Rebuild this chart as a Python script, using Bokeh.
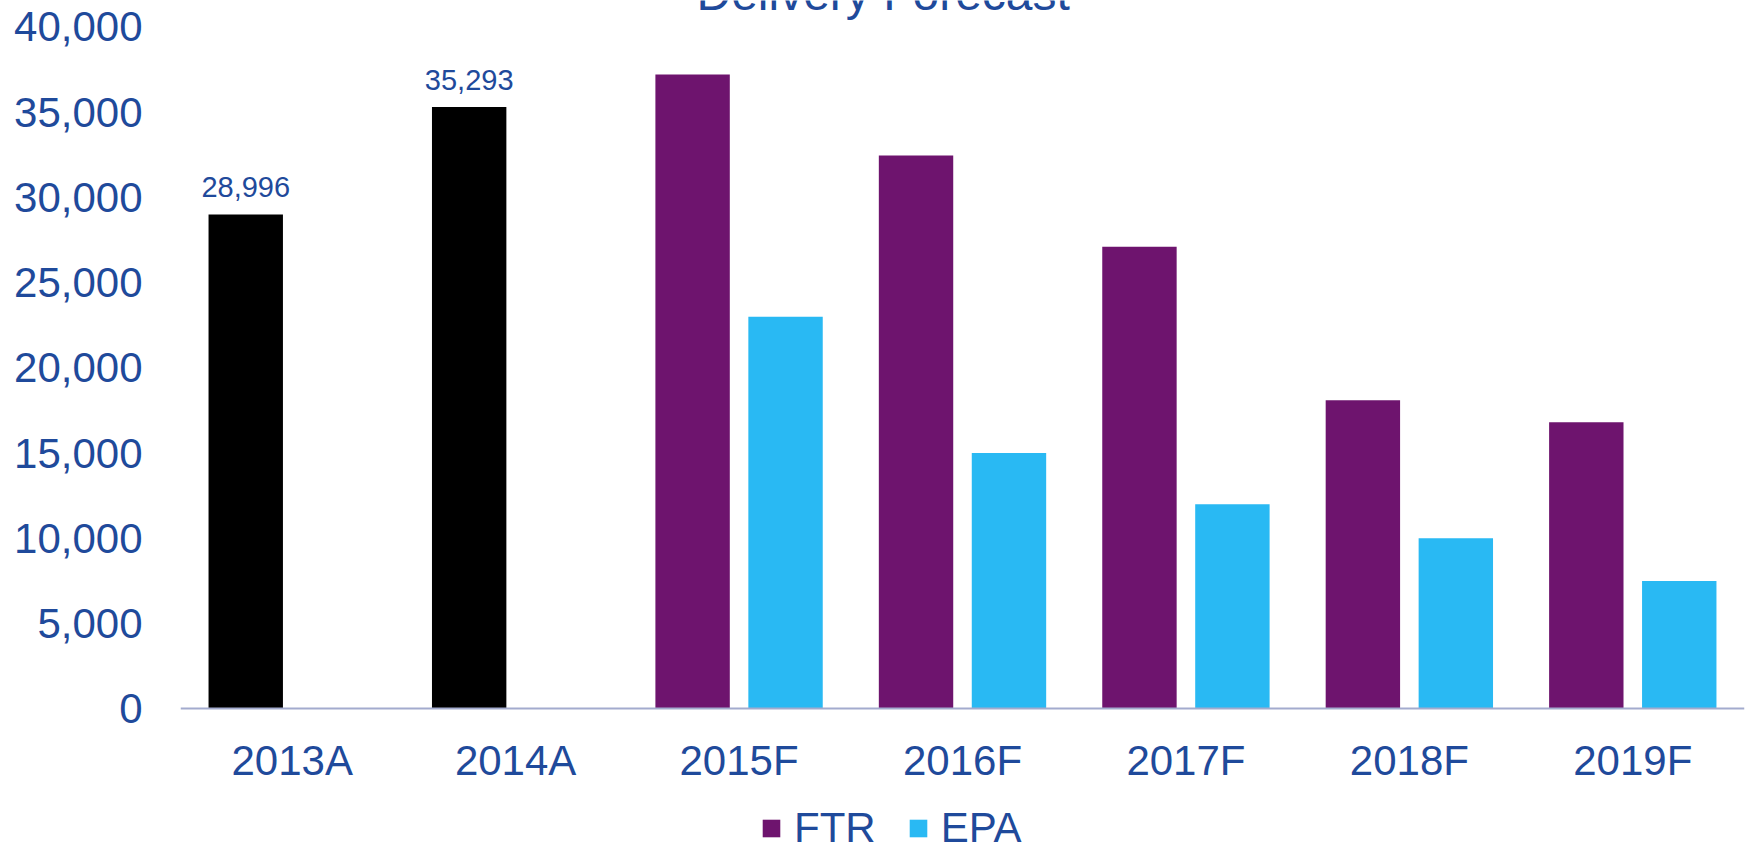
from bokeh.plotting import figure
from bokeh.models import (ColumnDataSource, FactorRange, Range1d, Legend, LegendItem,
                          LabelSet, Label, FixedTicker, NumeralTickFormatter)
from bokeh.core.properties import value
from bokeh.transform import dodge
from bokeh.embed import file_html
from bokeh.resources import INLINE

# ---- data ----
years = ["2013A", "2014A", "2015F", "2016F", "2017F", "2018F", "2019F"]
actual_years = ["2013A", "2014A"]
actual_values = [28996, 35293]
actual_labels = ["28,996", "35,293"]
forecast_years = ["2015F", "2016F", "2017F", "2018F", "2019F"]
ftr_values = [37200, 32450, 27100, 18100, 16800]
epa_values = [23000, 15000, 12000, 10000, 7500]
y_ticks = [0, 5000, 10000, 15000, 20000, 25000, 30000, 35000, 40000]
title_text = "Delivery Forecast"

TEXT = "#1F4A9B"
PURPLE = "#6E146E"
CYAN = "#29B9F3"
FONT = "Liberation Sans"

act_src = ColumnDataSource(dict(year=actual_years, value=actual_values, label=actual_labels))
fc_src = ColumnDataSource(dict(year=forecast_years, ftr=ftr_values, epa=epa_values))

# frame spans the full height; the value axis runs from 0 to 40,000 inside it
p = figure(width=1748, height=847, output_backend="svg", toolbar_location=None,
           x_range=FactorRange(*years, range_padding=0),
           y_range=Range1d(-8135, 41542),
           min_border_left=180, min_border_right=4, min_border_top=0, min_border_bottom=0)
p.outline_line_color = None
p.xgrid.grid_line_color = None
p.ygrid.grid_line_color = None
p.background_fill_color = "white"
p.border_fill_color = "white"

W = 0.333
OFF = 0.208
r_act = p.vbar(x=dodge("year", -OFF, range=p.x_range), top="value", width=W,
               source=act_src, fill_color="black", line_color=None)
r_ftr = p.vbar(x=dodge("year", -OFF, range=p.x_range), top="ftr", width=W,
               source=fc_src, fill_color=PURPLE, line_color=None)
r_epa = p.vbar(x=dodge("year", OFF, range=p.x_range), top="epa", width=W,
               source=fc_src, fill_color=CYAN, line_color=None)

labels = LabelSet(x=dodge("year", -OFF, range=p.x_range), y="value", text="label",
                  source=act_src, text_align="center", text_baseline="alphabetic",
                  y_offset=17, text_font=value(FONT), text_font_size="29px", text_color=TEXT)
p.add_layout(labels)

# axes
xa = p.xaxis[0]
xa.fixed_location = 0
xa.axis_line_color = "#A3ABCE"
xa.axis_line_width = 2
xa.major_tick_line_color = None
xa.minor_tick_line_color = None
xa.major_tick_out = 0
xa.major_tick_in = 0
xa.major_label_text_font = FONT
xa.major_label_text_font_size = "42px"
xa.major_label_text_color = TEXT
xa.major_label_standoff = 28

ya = p.yaxis[0]
ya.axis_line_color = None
ya.major_tick_line_color = None
ya.minor_tick_line_color = None
ya.major_tick_out = 0
ya.major_tick_in = 0
ya.ticker = FixedTicker(ticks=y_ticks)
ya.formatter = NumeralTickFormatter(format="0,0")
ya.major_label_text_font = FONT
ya.major_label_text_font_size = "42px"
ya.major_label_text_color = TEXT
ya.major_label_standoff = 38

# title (partly cut off at the top, as in the original)
title = Label(x=3.145, y=41980, text=title_text,
              text_align="center", text_baseline="alphabetic", text_font=FONT,
              text_font_size="48px", text_color=TEXT)
p.add_layout(title)

legend = Legend(items=[LegendItem(label="FTR", renderers=[r_ftr]),
                       LegendItem(label="EPA", renderers=[r_epa])],
                location=(580, -5), orientation="horizontal",
                glyph_width=22, glyph_height=22, label_standoff=12, spacing=31,
                padding=0, margin=0, border_line_color=None, background_fill_alpha=0,
                label_text_font=FONT, label_text_font_size="42px", label_text_color=TEXT)
p.add_layout(legend)

open("out.html", "w").write(file_html(p, INLINE))
